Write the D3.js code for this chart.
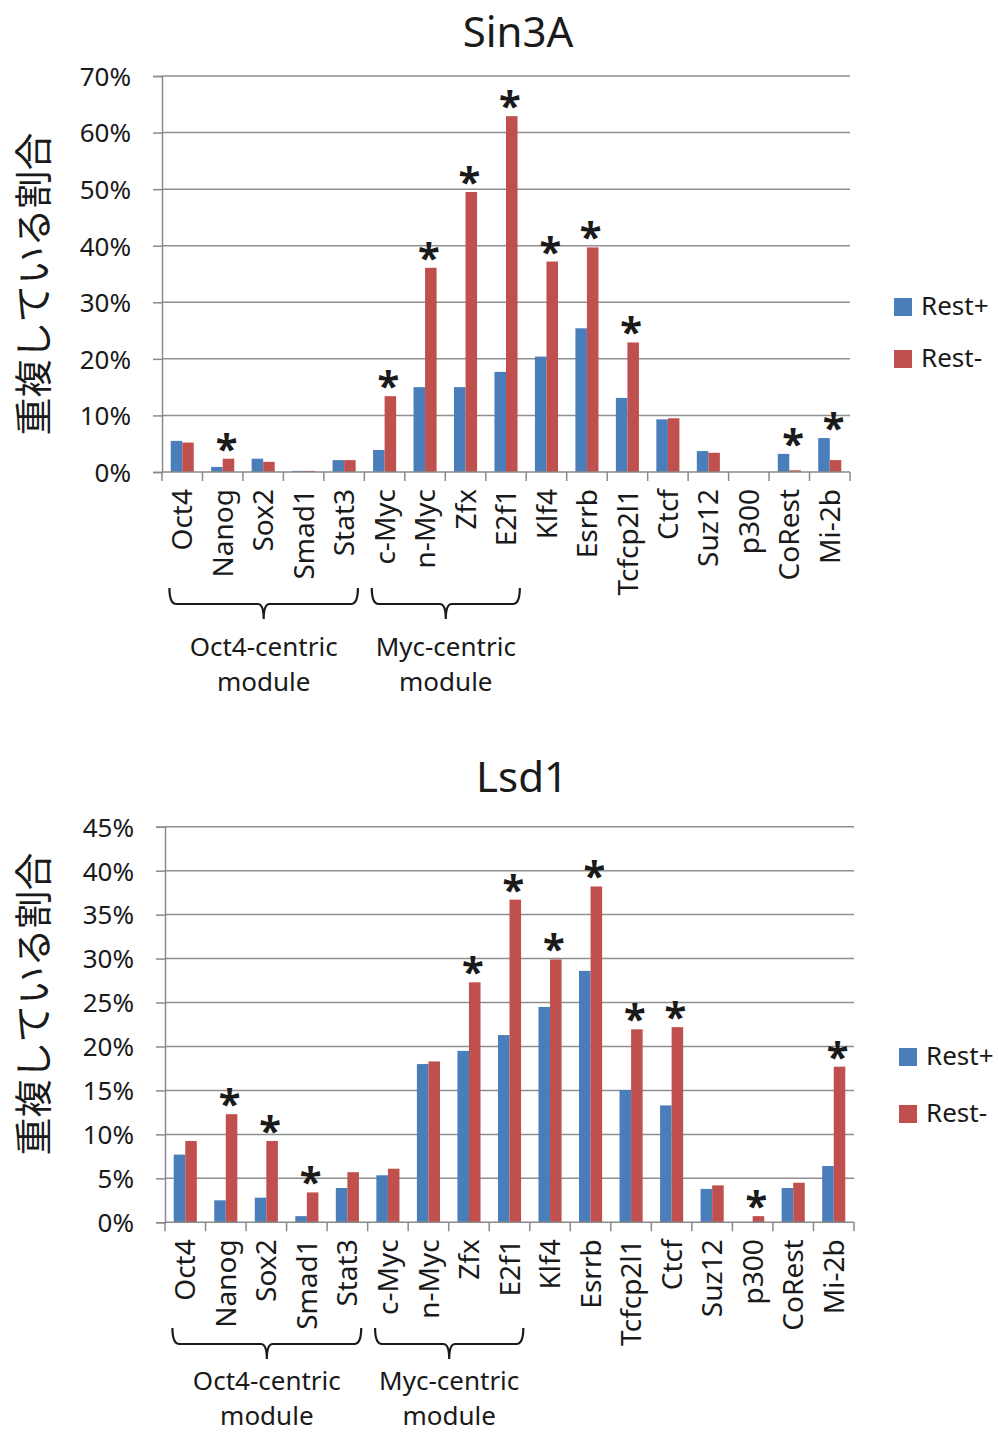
<!DOCTYPE html>
<html>
<head>
<meta charset="utf-8">
<script src="https://cdn.jsdelivr.net/npm/d3@7"></script>
<style>
  body { margin: 0; background: #fff; }
  text { font-family: "Noto Sans", "DejaVu Sans", sans-serif; fill: #1a1a1a; }
</style>
</head>
<body>
<div id="chart"></div>
<script>
// DATA (percent)
var categories = ["Oct4", "Nanog", "Sox2", "Smad1", "Stat3", "c-Myc", "n-Myc", "Zfx", "E2f1",
                  "Klf4", "Esrrb", "Tcfcp2l1", "Ctcf", "Suz12", "p300", "CoRest", "Mi-2b"];
var seriesNames = ["Rest+", "Rest-"];

var sin3aRestPlus  = [5.5, 0.9, 2.35, 0.2, 2.1, 3.9, 15.0, 15.0, 17.7, 20.4, 25.4, 13.1, 9.3, 3.7, 0, 3.2, 6.0];
var sin3aRestMinus = [5.2, 2.35, 1.8, 0.2, 2.1, 13.4, 36.1, 49.5, 62.9, 37.2, 39.7, 22.9, 9.5, 3.4, 0, 0.3, 2.1];
var sin3aStars = ["Nanog", "c-Myc", "n-Myc", "Zfx", "E2f1", "Klf4", "Esrrb", "Tcfcp2l1", "CoRest", "Mi-2b"];
var sin3aTicks = [0, 10, 20, 30, 40, 50, 60, 70];

var lsd1RestPlus  = [7.7, 2.5, 2.8, 0.7, 3.9, 5.35, 18.0, 19.5, 21.3, 24.5, 28.6, 15.05, 13.3, 3.8, 0, 3.9, 6.4];
var lsd1RestMinus = [9.25, 12.3, 9.25, 3.4, 5.7, 6.1, 18.3, 27.3, 36.7, 29.9, 38.2, 21.95, 22.2, 4.2, 0.7, 4.5, 17.7];
var lsd1Stars = ["Nanog", "Sox2", "Smad1", "Zfx", "E2f1", "Klf4", "Esrrb", "Tcfcp2l1", "Ctcf", "p300", "Mi-2b"];
var lsd1Ticks = [0, 5, 10, 15, 20, 25, 30, 35, 40, 45];

var moduleNames = [["Oct4-centric", "module"], ["Myc-centric", "module"]];
var moduleSpans = [["Oct4", "Stat3"], ["c-Myc", "E2f1"]];

var colors = ["#4a7ebb", "#c0504d"];

var svg = d3.select("#chart").append("svg")
    .attr("width", 998)
    .attr("height", 1434);

function drawChart(cfg) {
  var g = svg.append("g");
  var x0 = d3.scaleBand().domain(categories).range([cfg.left, cfg.right])
      .paddingInner(0.43).paddingOuter(0.215);
  var x1 = d3.scaleBand().domain(seriesNames).range([0, x0.bandwidth()]);
  var y = d3.scaleLinear().domain([0, d3.max(cfg.ticks)]).range([cfg.bottom, cfg.top]);

  // title
  g.append("text").attr("x", cfg.titleX).attr("y", cfg.titleY)
      .attr("text-anchor", "middle").style("font-size", "42px").text(cfg.title);

  // gridlines
  g.selectAll(".grid").data(cfg.ticks.slice(1)).enter().append("line")
      .attr("x1", cfg.left).attr("x2", cfg.right)
      .attr("y1", function(d) { return y(d); }).attr("y2", function(d) { return y(d); })
      .style("stroke", "#8f8f8f").style("stroke-width", 1.5);

  // y axis
  var yAxis = g.append("g")
      .attr("transform", "translate(" + cfg.left + ",0)")
      .call(d3.axisLeft(y).tickValues(cfg.ticks).tickSize(9).tickPadding(cfg.tickPad)
            .tickFormat(function(d) { return d + "%"; }));
  yAxis.select(".domain").style("stroke", "#8a8a8a").style("stroke-width", 1.5);
  yAxis.selectAll(".tick line").style("stroke", "#8a8a8a").style("stroke-width", 1.5);
  yAxis.selectAll("text").style("font-size", "26px").style("font-family", "Noto Sans").attr("dy", "0.36em");

  // y label
  g.append("text")
      .attr("transform", "translate(" + cfg.ylabelX + "," + cfg.ylabelY + ") rotate(-90)")
      .attr("text-anchor", "middle").attr("dy", "0.35em")
      .style("font-size", "38px").style("font-family", "Noto Sans CJK JP")
      .text("重複している割合");

  // bars
  var groups = g.selectAll(".cat").data(categories).enter().append("g")
      .attr("transform", function(d) { return "translate(" + x0(d) + ",0)"; });
  groups.selectAll("rect")
      .data(function(d, i) { return [cfg.plus[i], cfg.minus[i]].map(function(v, k) { return {s: seriesNames[k], v: v}; }); })
      .enter().append("rect")
      .attr("x", function(d) { return x1(d.s); })
      .attr("width", x1.bandwidth())
      .attr("y", function(d) { return y(d.v); })
      .attr("height", function(d) { return cfg.bottom - y(d.v); })
      .style("fill", function(d, k) { return colors[k]; });

  // x axis line and boundary ticks
  g.append("line").attr("x1", cfg.left).attr("x2", cfg.right)
      .attr("y1", cfg.bottom).attr("y2", cfg.bottom)
      .style("stroke", "#8a8a8a").style("stroke-width", 1.5);
  var bounds = categories.map(function(c) { return x0(c) - x0.step() * x0.paddingOuter(); });
  bounds.push(cfg.right);
  g.selectAll(".xtick").data(bounds).enter().append("line")
      .attr("x1", function(d) { return d; }).attr("x2", function(d) { return d; })
      .attr("y1", cfg.bottom).attr("y2", cfg.bottom + 9)
      .style("stroke", "#8a8a8a").style("stroke-width", 1.5);

  // category labels
  g.selectAll(".xlab").data(categories).enter().append("text")
      .attr("transform", function(d) {
        return "translate(" + (x0(d) + x0.bandwidth() / 2) + "," + (cfg.bottom + 17) + ") rotate(-90)";
      })
      .attr("text-anchor", "end").attr("dy", "0.36em")
      .style("font-size", "28px")
      .text(function(d) { return d; });

  // significance asterisks
  g.selectAll(".star").data(cfg.stars).enter().append("text")
      .attr("x", function(d) { return x0(d) + x1("Rest-") + x1.bandwidth() / 2 - 2; })
      .attr("y", function(d) {
        var i = categories.indexOf(d);
        return y(Math.max(cfg.plus[i], cfg.minus[i])) - 16;
      })
      .attr("text-anchor", "middle").attr("dy", "0.5em")
      .style("font-size", "40px").style("font-weight", "bold").style("font-family", "Noto Sans")
      .text("*");

  // module brackets
  moduleSpans.forEach(function(span, m) {
    var l = x0(span[0]) - x0.step() * 0.18 + 6;
    var r = x0(span[1]) + x0.bandwidth() + x0.step() * 0.18 - 5;
    var mid = (l + r) / 2;
    var t = cfg.bracketTop, h = t + 16, e = t + 31;
    g.append("path")
        .attr("d", "M" + l + "," + t + " Q" + l + "," + h + " " + (l + 7) + "," + h +
                   " H" + (mid - 6) + " Q" + mid + "," + h + " " + mid + "," + e +
                   " Q" + mid + "," + h + " " + (mid + 6) + "," + h +
                   " H" + (r - 7) + " Q" + r + "," + h + " " + r + "," + t)
        .style("fill", "none").style("stroke", "#1a1a1a").style("stroke-width", 2.2);
    moduleNames[m].forEach(function(line, k) {
      g.append("text").attr("x", mid).attr("y", cfg.moduleY + k * 35)
          .attr("text-anchor", "middle").style("font-size", "26px")
          .text(line);
    });
  });

  // legend
  seriesNames.forEach(function(s, k) {
    g.append("rect").attr("x", cfg.legendX).attr("y", cfg.legendY + k * cfg.legendGap - 17)
        .attr("width", 18).attr("height", 18).style("fill", colors[k]);
    g.append("text").attr("x", cfg.legendX + 27).attr("y", cfg.legendY + k * cfg.legendGap)
        .style("font-size", "26px").text(s);
  });
}

drawChart({
  title: "Sin3A", titleX: 518, titleY: 47,
  left: 162, right: 850, top: 76, bottom: 472,
  ticks: sin3aTicks, plus: sin3aRestPlus, minus: sin3aRestMinus, stars: sin3aStars,
  tickPad: 22, ylabelX: 34, ylabelY: 284,
  bracketTop: 588, moduleY: 656,
  legendX: 894, legendY: 315, legendGap: 52
});

drawChart({
  title: "Lsd1", titleX: 522, titleY: 792,
  left: 165, right: 854, top: 826.7, bottom: 1222.3,
  ticks: lsd1Ticks, plus: lsd1RestPlus, minus: lsd1RestMinus, stars: lsd1Stars,
  tickPad: 22, ylabelX: 34, ylabelY: 1004,
  bracketTop: 1328, moduleY: 1390,
  legendX: 899, legendY: 1065, legendGap: 57
});
</script>
</body>
</html>
